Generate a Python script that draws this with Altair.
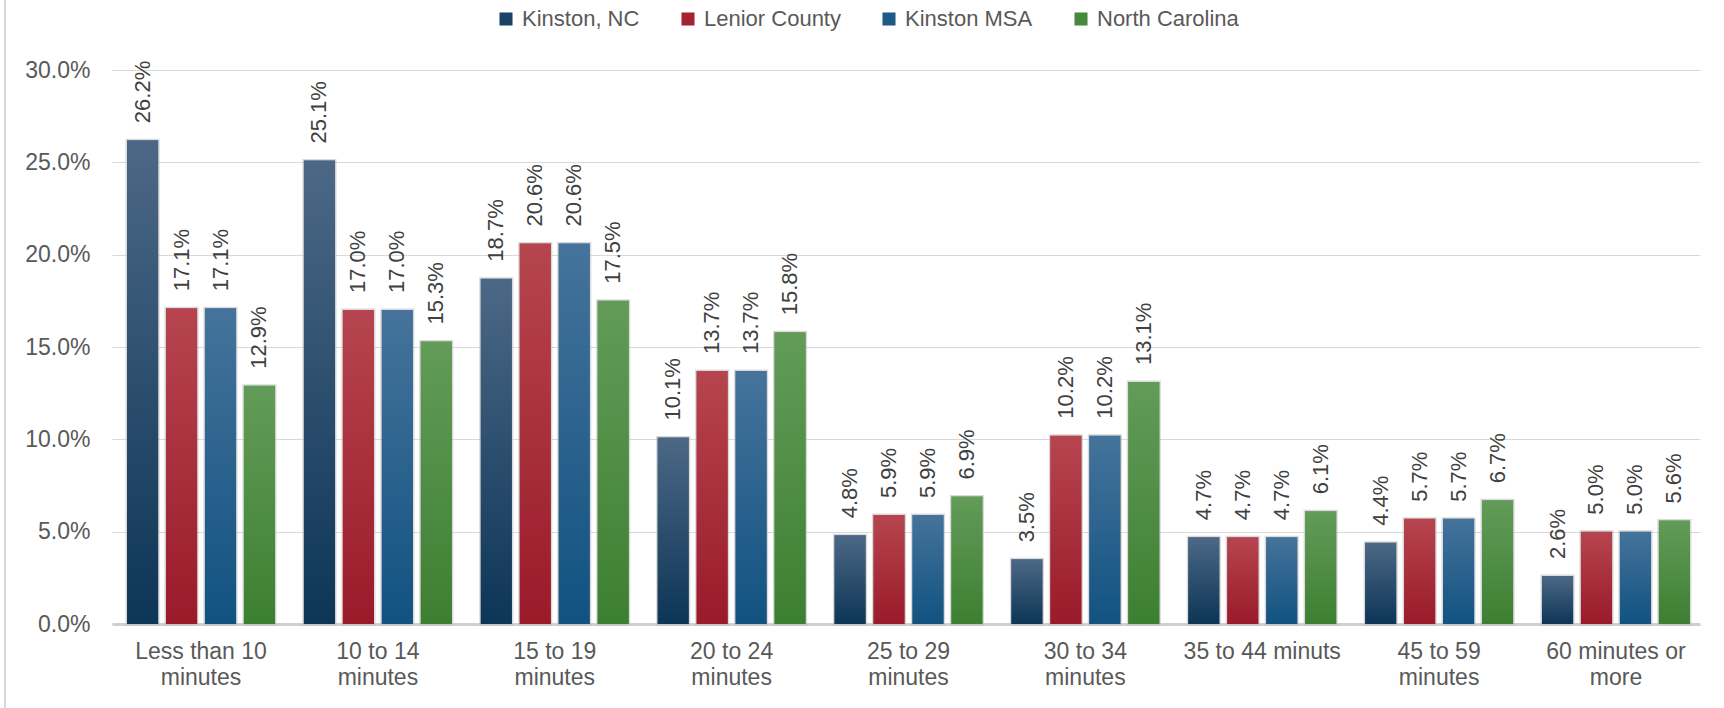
import altair as alt
import pandas as pd

# Commute time buckets (x axis), "\n" marks the label line break
categories = [
    "Less than 10\nminutes",
    "10 to 14\nminutes",
    "15 to 19\nminutes",
    "20 to 24\nminutes",
    "25 to 29\nminutes",
    "30 to 34\nminutes",
    "35 to 44 minuts",
    "45 to 59\nminutes",
    "60 minutes or\nmore",
]

series = ["Kinston, NC", "Lenior County", "Kinston MSA", "North Carolina"]

# Share of workers (%) by travel time to work
kinston_nc = [26.2, 25.1, 18.7, 10.1, 4.8, 3.5, 4.7, 4.4, 2.6]
lenior_county = [17.1, 17.0, 20.6, 13.7, 5.9, 10.2, 4.7, 5.7, 5.0]
kinston_msa = [17.1, 17.0, 20.6, 13.7, 5.9, 10.2, 4.7, 5.7, 5.0]
north_carolina = [12.9, 15.3, 17.5, 15.8, 6.9, 13.1, 6.1, 6.7, 5.6]

# Solid colour per series (legend + shadow layer) and gradient stops (top, bottom)
solid = ["#1a4264", "#a4232f", "#1f5985", "#488a3d"]
grad = [
    ("#4c6886", "#0d3556"),
    ("#b6454f", "#9a1a2a"),
    ("#45739b", "#115281"),
    ("#629c58", "#3d7f32"),
]

values = [kinston_nc, lenior_county, kinston_msa, north_carolina]
rows = []
for s, vals in zip(series, values):
    for c, v in zip(categories, vals):
        rows.append({"category": c, "series": s, "value": v})
df = pd.DataFrame(rows)

FONT = "Liberation Sans"

x_enc = alt.X(
    "category:N",
    sort=categories,
    title=None,
    scale=alt.Scale(paddingInner=0.163, paddingOuter=0.0707, align=0.6),
    axis=alt.Axis(
        labelExpr="split(datum.label, '\\n')",
        labelAngle=0,
        labelFontSize=23,
        labelColor="#595959",
        labelFont=FONT,
        labelLineHeight=26,
        labelPadding=16,
        labelBaseline="top",
        ticks=False,
        domainColor="#d0d0d0",
        domainWidth=3,
        grid=False,
    ),
)
xoff_enc = alt.XOffset(
    "series:N", sort=series, scale=alt.Scale(domain=series, paddingInner=0.2, paddingOuter=0)
)
y_enc = alt.Y(
    "value:Q",
    title=None,
    scale=alt.Scale(domain=[0, 30], nice=False, zero=True),
    axis=alt.Axis(
        values=[0, 5, 10, 15, 20, 25, 30],
        labelExpr="format(datum.value, '.1f') + '%'",
        labelFontSize=23,
        labelColor="#595959",
        labelFont=FONT,
        labelPadding=22,
        ticks=False,
        domain=False,
        grid=True,
        gridColor="#d9d9d9",
        gridWidth=1,
    ),
)

base = alt.Chart(df)

# Solid bars with a soft grey outline: provide the legend and the bar shadow
shadow = base.mark_bar(stroke="#bcbcbc", strokeWidth=3, strokeOpacity=0.55).encode(
    x=x_enc,
    xOffset=xoff_enc,
    y=y_enc,
    color=alt.Color(
        "series:N",
        sort=series,
        scale=alt.Scale(domain=series, range=solid),
        legend=alt.Legend(
            title=None,
            orient="none",
            direction="horizontal",
            legendX=383,
            legendY=-62,
            labelFontSize=22,
            labelColor="#595959",
            labelFont=FONT,
            symbolType="square",
            symbolSize=170,
            symbolStrokeWidth=0,
            labelOffset=5,
            columnPadding=37,
        ),
    ),
)

# Gradient-filled bars, one layer per series
gradient_layers = []
for s, (top, bottom) in zip(series, grad):
    gradient_layers.append(
        base.transform_filter(alt.datum.series == s)
        .mark_bar(
            fill=alt.Gradient(
                gradient="linear",
                stops=[
                    alt.GradientStop(color=top, offset=0),
                    alt.GradientStop(color=bottom, offset=1),
                ],
                x1=0,
                x2=0,
                y1=0,
                y2=1,
            )
        )
        .encode(x=x_enc, xOffset=xoff_enc, y=y_enc)
    )

# Rotated value labels above each bar
labels = (
    base.transform_calculate(lab="format(datum.value, '.1f') + '%'")
    .mark_text(
        angle=270,
        align="left",
        baseline="middle",
        dx=17,
        fontSize=22,
        font=FONT,
        color="#404040",
    )
    .encode(x=x_enc, xOffset=xoff_enc, y=y_enc, text="lab:N")
)

# Thin frame line along the left edge
frame = (
    alt.Chart(alt.Data(values=[{}]))
    .mark_rule(color="#d9d9d9", strokeWidth=2)
    .encode(x=alt.value(-107), y=alt.value(-70), y2=alt.value(638))
)

chart = (
    alt.layer(shadow, *gradient_layers, labels, frame)
    .properties(
        width=1588,
        height=554,
        autosize=alt.AutoSizeParams(type="none"),
        padding={"left": 112, "top": 70, "right": 24, "bottom": 84},
        background="white",
    )
    .configure_view(stroke=None)
)

chart.save("out.html", embed_options={"renderer": "svg", "actions": False})
